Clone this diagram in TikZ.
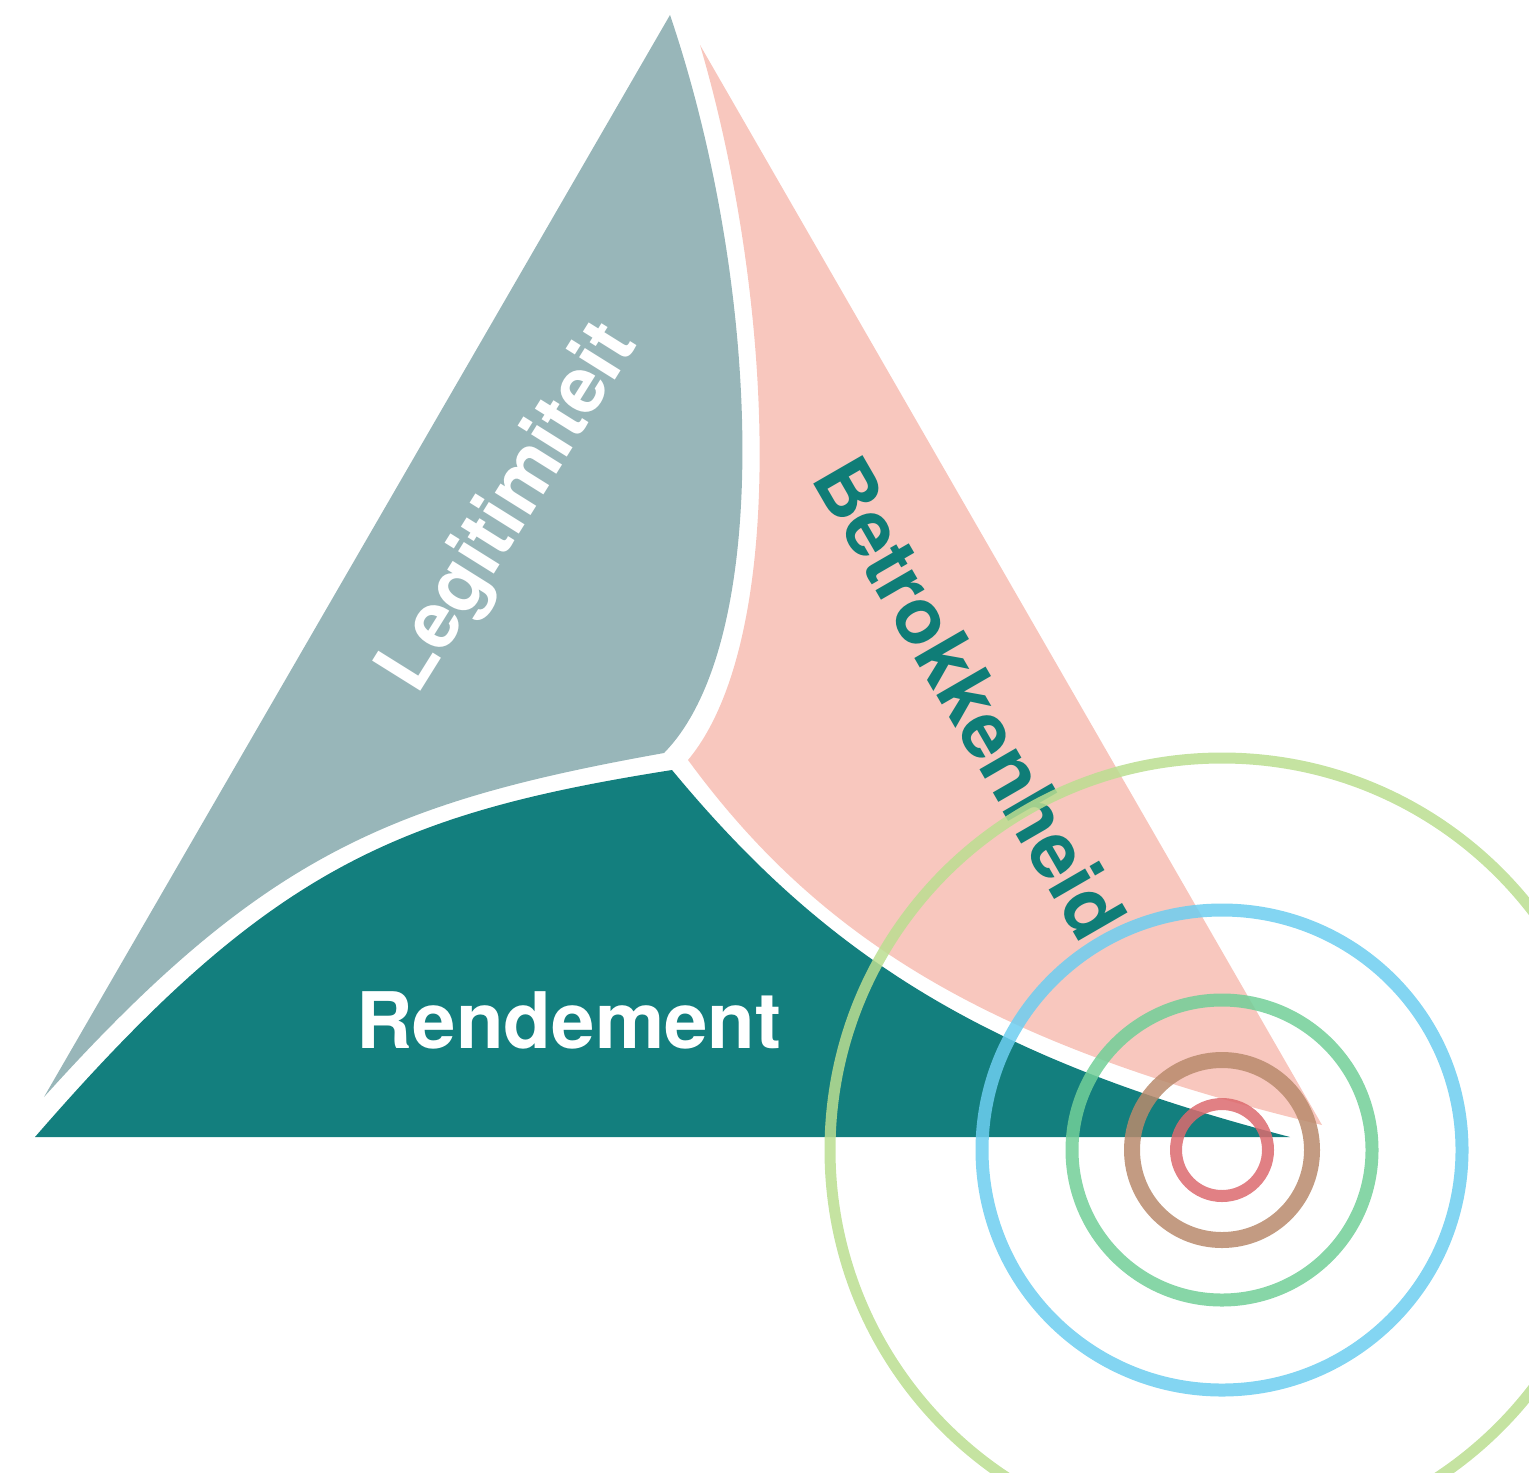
\documentclass[tikz,border=0pt]{standalone}
\usepackage{fontspec}
\setmainfont{TeX Gyre Heros}
\definecolor{greyblue}{HTML}{98B6B9}
\definecolor{salmon}{HTML}{F8C7BE}
\definecolor{tealfill}{HTML}{137F7E}
\definecolor{tealtext}{HTML}{0F7D77}
\definecolor{ringred}{HTML}{DC6A6E}
\definecolor{ringbrown}{HTML}{B98A6C}
\definecolor{ringgreen}{HTML}{72CF98}
\definecolor{ringblue}{HTML}{6DCEF0}
\definecolor{ringlime}{HTML}{BBDE91}
\tikzset{
  ring/.style={draw=#1, draw opacity=0.85, fill=none},
  lbl/.style={font=\fontsize{39}{46}\selectfont\bfseries, inner sep=0pt, anchor=base}
}
\begin{document}
\begin{tikzpicture}[x=0.5pt,y=-0.5pt]
\useasboundingbox (0,0) rectangle (1529,1472);
\clip (0,0) rectangle (1529,1472);
% Legitimiteit region
\fill[greyblue] (670,15) -- (44,1097)
  .. controls (262,855) and (390,802) .. (664,753)
  .. controls (775,640) and (760,280) .. (670,15) -- cycle;
% Betrokkenheid region
\fill[salmon] (700,45) -- (1322,1125)
  .. controls (990,1045) and (820,940) .. (688,760)
  .. controls (788,640) and (775,300) .. (700,45) -- cycle;
% Rendement region
\fill[tealfill] (35,1137) -- (1290,1137)
  .. controls (985,1058) and (825,955) .. (672,770)
  .. controls (392,814) and (265,872) .. (35,1137) -- cycle;
% labels
\node[lbl, text=white, rotate=58] (leg) at (528,520) {Legitimiteit};
\node[lbl, text=tealtext, rotate=-60] (bet) at (946,712) {Betrokkenheid};
\node[lbl, text=white] (ren) at (569,1048) {Rendement};
% rings
\draw[ring=ringlime, line width=5.5pt] (1222,1150) circle[radius=392];
\draw[ring=ringblue, line width=6.5pt] (1222,1150) circle[radius=240];
\draw[ring=ringgreen, line width=6.5pt] (1222,1150) circle[radius=150];
\draw[ring=ringbrown, line width=8pt] (1222,1150) circle[radius=90];
\draw[ring=ringred, line width=6pt] (1222,1150) circle[radius=46];
\end{tikzpicture}
\end{document}
